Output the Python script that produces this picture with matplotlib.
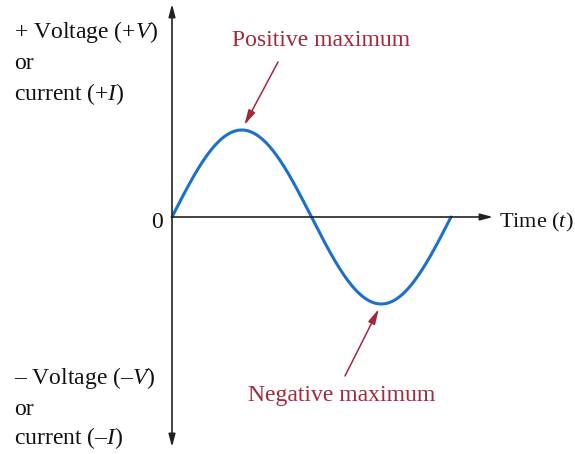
import numpy as np
import matplotlib
matplotlib.use("Agg")
import matplotlib.pyplot as plt

# Waveform description: one full cycle of an AC sine wave
period = 1.0          # one cycle along the time axis
amplitude = 1.0       # peak value (positive / negative maximum)
peak_phase = 0.25     # fraction of the cycle where the positive maximum occurs
trough_phase = 0.75   # fraction of the cycle where the negative maximum occurs

labels_top = ["+ Voltage (+$V$)", "or", "current (+$I$)"]
labels_bottom = ["\u2013 Voltage (\u2013$V$)", "or", "current (\u2013$I$)"]
time_label = "Time ($t$)"
origin_label = "0"
pos_label = "Positive maximum"
neg_label = "Negative maximum"

plt.rcParams["font.family"] = ["Liberation Serif", "DejaVu Serif"]
plt.rcParams["mathtext.fontset"] = "custom"
plt.rcParams["mathtext.rm"] = "Liberation Serif"
plt.rcParams["mathtext.it"] = "Liberation Serif:italic"

W, H = 575, 454
fig = plt.figure(figsize=(W / 100, H / 100), dpi=100)
ax = fig.add_axes([0, 0, 1, 1])
ax.set_axis_off()

# layout: pixel location of the origin and scale of one unit
ox, oy = 172, 217
sx, sy = 279 / period, 87 / amplitude


def px(x, y):
    return (x - ox) / sx, (oy - y) / sy


ax.set_xlim(px(0, 0)[0], px(W, 0)[0])
ax.set_ylim(px(0, H)[1], px(0, 0)[1])

blue = "#1b70cc"
red = "#a3283c"
axis_col = "#222222"
text_col = "#111111"
fs = 17

# the sine wave
t = np.linspace(0, period, 400)
v = amplitude * np.sin(2 * np.pi * t / period)
ax.plot(t, v, color=blue, lw=2.2, solid_capstyle="round", zorder=3)

# axes with arrow heads
arrow_kw = dict(arrowstyle="-|>,head_length=0.75,head_width=0.2",
                color=axis_col, lw=1.2, shrinkA=0, shrinkB=0)
ax.annotate("", xy=px(493, oy), xytext=(0, 0), arrowprops=arrow_kw)
ax.annotate("", xy=px(ox, 4), xytext=(0, 0), arrowprops=arrow_kw)
ax.annotate("", xy=px(ox, 447), xytext=(0, 0), arrowprops=arrow_kw)

# axis labels
for s, by in zip(labels_top, [38, 69, 100]):
    ax.text(*px(14, by), s, fontsize=fs, ha="left", va="baseline", color=text_col)
for s, by in zip(labels_bottom, [384, 415, 444]):
    ax.text(*px(14, by), s, fontsize=fs, ha="left", va="baseline", color=text_col)
ax.text(*px(157, 228), origin_label, fontsize=fs, ha="center", va="baseline", color=text_col)
ax.text(*px(574, 227), time_label, fontsize=16, ha="right", va="baseline", color=text_col)

# annotations for the maxima
red_arrow = dict(arrowstyle="-|>,head_length=0.9,head_width=0.22",
                 color=red, lw=1.1, shrinkA=0, shrinkB=4)
peak = (peak_phase * period, amplitude)
trough = (trough_phase * period, -amplitude)
ax.text(*px(321, 46), pos_label, fontsize=fs, ha="center", va="baseline", color=red)
ax.annotate("", xy=peak, xytext=px(278, 62), arrowprops=red_arrow)
ax.text(*px(342, 401), neg_label, fontsize=fs, ha="center", va="baseline", color=red)
ax.annotate("", xy=trough, xytext=px(345, 376), arrowprops=red_arrow)

fig.savefig("out.png", dpi=100)
